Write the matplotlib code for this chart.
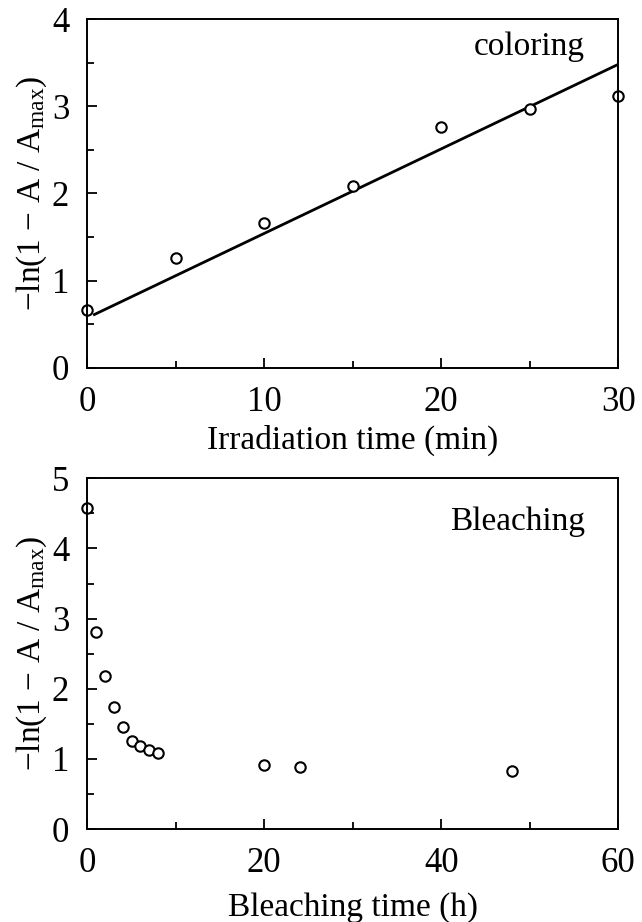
import numpy as np
import matplotlib
matplotlib.use("Agg")
import matplotlib.pyplot as plt
from matplotlib.ticker import MultipleLocator

plt.rcParams['font.family'] = ['Liberation Serif', 'DejaVu Serif']
plt.rcParams['mathtext.fontset'] = 'custom'
plt.rcParams['mathtext.rm'] = 'Liberation Serif'
plt.rcParams['mathtext.it'] = 'Liberation Serif:italic'

# coloring data (irradiation time, min)
color_t = [0, 5, 10, 15, 20, 25, 30]
color_y = [0.66, 1.255, 1.66, 2.09, 2.76, 2.97, 3.12]
fit_t = [0.4, 30]
fit_y = [0.61, 3.48]

# bleaching data (time, h)
bleach_t = [0, 1, 2, 3, 4, 5, 6, 7, 8, 20, 24, 48]
bleach_y = [4.58, 2.81, 2.18, 1.74, 1.45, 1.26, 1.18, 1.13, 1.09, 0.91, 0.89, 0.83]

ylabel = '\u2212ln(1 \u2212 A / A$_{\\mathrm{max}}$)'

fig = plt.figure(figsize=(6.42, 9.22), dpi=100)
ax1 = fig.add_axes([87.3/642, 1 - 367.7/922, 531/642, 348.7/922])
ax2 = fig.add_axes([87.3/642, 1 - 829/922, 531/642, 350.7/922])

def style(ax):
    for s in ax.spines.values():
        s.set_linewidth(1.4)
    ax.tick_params(which='both', direction='in', top=False, right=False,
                   width=1.3, labelsize=25)
    ax.tick_params(which='major', length=7, pad=13)
    ax.tick_params(which='minor', length=5)

ax1.plot(fit_t, fit_y, color='black', lw=2)
ax1.plot(color_t, color_y, 'o', mfc='white', mec='black', ms=7.5, mew=1.5, clip_on=False)
ax1.set_xlim(0, 30)
ax1.set_ylim(0, 4)
ax1.xaxis.set_major_locator(MultipleLocator(10))
ax1.xaxis.set_minor_locator(MultipleLocator(5))
ax1.yaxis.set_major_locator(MultipleLocator(1))
ax1.yaxis.set_minor_locator(MultipleLocator(0.5))
style(ax1)
ax1.set_xlabel('Irradiation time (min)', fontsize=24, labelpad=4)
ax1.set_ylabel(ylabel, fontsize=24, labelpad=2)
ax1.text(0.937, 0.92, 'coloring', transform=ax1.transAxes, ha='right', va='center', fontsize=24)

ax2.plot(bleach_t, bleach_y, 'o', mfc='white', mec='black', ms=7.5, mew=1.5, clip_on=False)
ax2.set_xlim(0, 60)
ax2.set_ylim(0, 5)
ax2.xaxis.set_major_locator(MultipleLocator(20))
ax2.xaxis.set_minor_locator(MultipleLocator(10))
ax2.yaxis.set_major_locator(MultipleLocator(1))
ax2.yaxis.set_minor_locator(MultipleLocator(0.5))
style(ax2)
ax2.set_xlabel('Bleaching time (h)', fontsize=24, labelpad=9)
ax2.set_ylabel(ylabel, fontsize=24, labelpad=2)
ax2.text(0.937, 0.875, 'Bleaching', transform=ax2.transAxes, ha='right', va='center', fontsize=24)

fig.savefig('out.png', dpi=100)
